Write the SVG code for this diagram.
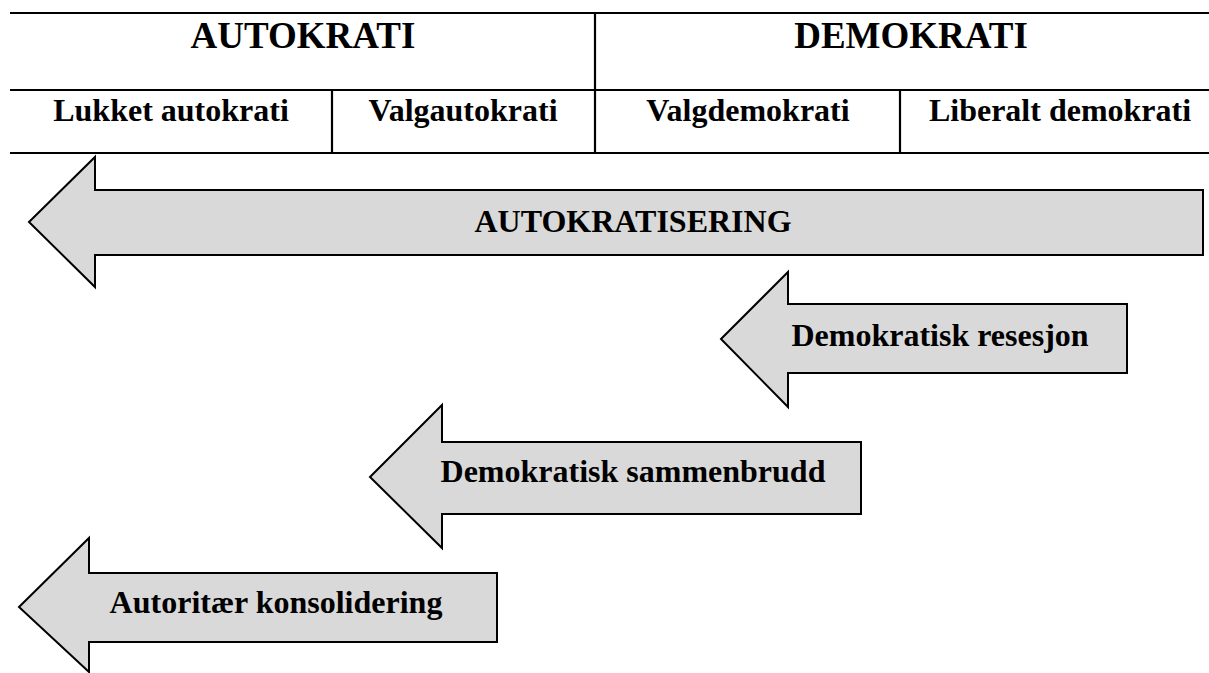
<svg xmlns="http://www.w3.org/2000/svg" width="1209" height="673" viewBox="0 0 1209 673">
<style>
.grid{stroke:#000;stroke-width:2.2;fill:none}
.arrow{fill:#d9d9d9;stroke:#000;stroke-width:2;stroke-linejoin:miter}
.t{font-family:"Liberation Serif","Times New Roman",serif;font-weight:bold;fill:#000;text-anchor:middle}
.h1{font-size:37px}
.h2{font-size:32px}
.lb{font-size:32px}
</style>
<rect width="1209" height="673" fill="#fff"/>
<g id="table">
<line class="grid" x1="10" y1="13" x2="1209" y2="13"/>
<line class="grid" x1="10" y1="90" x2="1209" y2="90"/>
<line class="grid" x1="10" y1="153" x2="1209" y2="153"/>
<line class="grid" x1="595" y1="13" x2="595" y2="153"/>
<line class="grid" x1="332" y1="90" x2="332" y2="153"/>
<line class="grid" x1="900" y1="90" x2="900" y2="153"/>
<text class="t h1" x="303" y="48">AUTOKRATI</text>
<text class="t h1" x="911" y="48">DEMOKRATI</text>
<text class="t h2" x="171" y="121">Lukket autokrati</text>
<text class="t h2" x="463" y="121">Valgautokrati</text>
<text class="t h2" x="748" y="121">Valgdemokrati</text>
<text class="t h2" x="1060" y="121">Liberalt demokrati</text>
</g>
<g id="connectors"></g>
<g id="autokratisering">
<polygon class="arrow" points="29,222 95,157 95,190 1203,190 1203,255 95,255 95,287"/>
<text class="t lb" x="633" y="232">AUTOKRATISERING</text>
</g>
<g id="resesjon">
<polygon class="arrow" points="721,339 788,272 788,304 1127,304 1127,373 788,373 788,407"/>
<text class="t lb" x="940" y="346">Demokratisk resesjon</text>
</g>
<g id="sammenbrudd">
<polygon class="arrow" points="370,477 442,405 442,442 861,442 861,514 442,514 442,548"/>
<text class="t lb" x="633" y="482">Demokratisk sammenbrudd</text>
</g>
<g id="konsolidering">
<polygon class="arrow" points="19,607 89,538 89,573 497,573 497,642 89,642 89,672"/>
<text class="t lb" x="276" y="613">Autoritær konsolidering</text>
</g>
</svg>
